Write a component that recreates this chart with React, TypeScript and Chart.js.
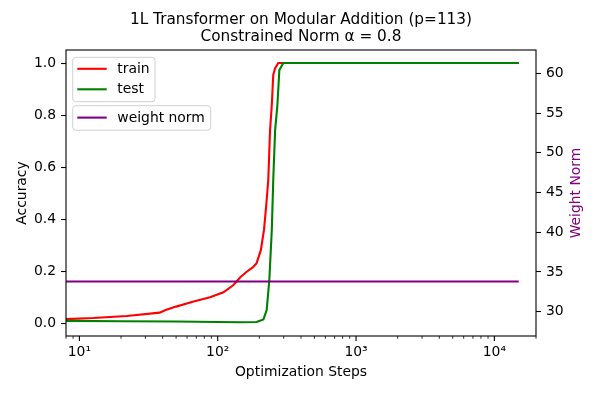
import React, { useEffect, useRef } from 'react';
import { Chart, registerables } from 'chart.js';

Chart.register(...registerables);

const TITLE_LINES = ['1L Transformer on Modular Addition (p=113)', 'Constrained Norm α = 0.8'];
const X_LABEL = 'Optimization Steps';
const Y_LABEL = 'Accuracy';
const Y2_LABEL = 'Weight Norm';

const TRAIN_STEPS = [8, 12.6, 22, 38, 42, 50, 66, 88, 110, 130, 145, 162, 180, 191, 205, 216, 224, 232, 239, 246, 252, 260, 274, 15000];
const TRAIN_ACC = [0.015, 0.019, 0.027, 0.04, 0.05, 0.063, 0.082, 0.099, 0.118, 0.146, 0.175, 0.197, 0.215, 0.23, 0.28, 0.358, 0.45, 0.55, 0.742, 0.838, 0.954, 0.98, 1.0, 1.0];

const TEST_STEPS = [8, 20, 50, 100, 150, 191, 214, 226, 236, 246, 252, 260, 270, 279, 298, 15000];
const TEST_ACC = [0.008, 0.007, 0.006, 0.004, 0.003, 0.004, 0.014, 0.05, 0.165, 0.358, 0.55, 0.742, 0.838, 0.973, 1.0, 1.0];

const NORM_STEPS = [8, 15000];
const NORM_VALUES = [33.8, 33.8];

const X_MIN = 8;
const X_MAX = 20000;
const X_MAJOR_TICKS = [10, 100, 1000, 10000];
const X_MINOR_TICKS = [8, 9, 20, 30, 40, 50, 60, 70, 80, 90, 200, 300, 400, 500, 600, 700, 800, 900, 2000, 3000, 4000, 5000, 6000, 7000, 8000, 9000, 20000];
const Y_MIN = -0.05;
const Y_MAX = 1.05;
const Y_TICKS = [0, 0.2, 0.4, 0.6, 0.8, 1.0];
const Y2_MIN = 26.94;
const Y2_MAX = 62.93;
const Y2_TICKS = [30, 35, 40, 45, 50, 55, 60];

const FONT = 'DejaVu Sans';
const FS = 13.9;
const TITLE_FS = 15.3;
const SUP: Record<string, string> = { '0': '⁰', '1': '¹', '2': '²', '3': '³', '4': '⁴', '5': '⁵', '6': '⁶', '7': '⁷', '8': '⁸', '9': '⁹' };

function fmtPow(v: number) {
  const e = Math.round(Math.log10(v));
  return '10' + String(e).split('').map((c) => SUP[c] || c).join('');
}

function roundRect(ctx: CanvasRenderingContext2D, x: number, y: number, w: number, h: number, r: number) {
  ctx.beginPath();
  ctx.moveTo(x + r, y);
  ctx.lineTo(x + w - r, y);
  ctx.quadraticCurveTo(x + w, y, x + w, y + r);
  ctx.lineTo(x + w, y + h - r);
  ctx.quadraticCurveTo(x + w, y + h, x + w - r, y + h);
  ctx.lineTo(x + r, y + h);
  ctx.quadraticCurveTo(x, y + h, x, y + h - r);
  ctx.lineTo(x, y + r);
  ctx.quadraticCurveTo(x, y, x + r, y);
  ctx.closePath();
}

const overlay = {
  id: 'overlay',
  afterDatasetsDraw(chart: any) {
    const { ctx, chartArea: a, scales } = chart;
    ctx.save();
    const xs = scales.x;
    ctx.strokeStyle = '#000';
    ctx.lineWidth = 1.1;
    for (const v of X_MAJOR_TICKS) {
      const px = xs.getPixelForValue(v);
      ctx.beginPath();
      ctx.moveTo(px, a.bottom);
      ctx.lineTo(px, a.bottom + 4.9);
      ctx.stroke();
    }
    ctx.lineWidth = 0.8;
    for (const v of X_MINOR_TICKS) {
      if (v < X_MIN || v > X_MAX) continue;
      const px = xs.getPixelForValue(v);
      ctx.beginPath();
      ctx.moveTo(px, a.bottom);
      ctx.lineTo(px, a.bottom + 2.8);
      ctx.stroke();
    }
    ctx.lineWidth = 1.1;
    ctx.strokeRect(a.left, a.top, a.right - a.left, a.bottom - a.top);

    const ds = chart.data.datasets;
    const drawLegend = (bx: number, by: number, bw: number, bh: number, items: { label: string; color: string; y: number }[]) => {
      roundRect(ctx, bx, by, bw, bh, 3);
      ctx.fillStyle = 'rgba(255,255,255,0.8)';
      ctx.fill();
      ctx.strokeStyle = '#d0d0d0';
      ctx.lineWidth = 1;
      ctx.stroke();
      for (const it of items) {
        ctx.strokeStyle = it.color;
        ctx.lineWidth = 2.1;
        ctx.beginPath();
        ctx.moveTo(bx + 4.6, it.y);
        ctx.lineTo(bx + 34, it.y);
        ctx.stroke();
        ctx.fillStyle = '#000';
        ctx.font = `${FS}px "${FONT}"`;
        ctx.textAlign = 'left';
        ctx.textBaseline = 'middle';
        ctx.fillText(it.label, bx + 44.6, it.y + 0.5);
      }
    };
    drawLegend(72.7, 57.3, 82.3, 44.4, [
      { label: ds[0].label, color: ds[0].borderColor, y: 68.8 },
      { label: ds[1].label, color: ds[1].borderColor, y: 89.3 },
    ]);
    drawLegend(72.7, 105.7, 138, 24.5, [{ label: ds[2].label, color: ds[2].borderColor, y: 117.6 }]);

    ctx.fillStyle = '#000';
    ctx.textAlign = 'center';
    ctx.textBaseline = 'middle';
    const cx = (a.left + a.right) / 2;
    ctx.font = `${TITLE_FS}px "${FONT}"`;
    ctx.fillText(TITLE_LINES[0], cx, 20);
    ctx.fillText(TITLE_LINES[1], cx, 37);
    ctx.font = `${FS}px "${FONT}"`;
    ctx.fillText(X_LABEL, cx, 372);

    ctx.save();
    ctx.translate(22, (a.top + a.bottom) / 2);
    ctx.rotate(-Math.PI / 2);
    ctx.fillText(Y_LABEL, 0, 0);
    ctx.restore();

    ctx.save();
    ctx.translate(576, (a.top + a.bottom) / 2);
    ctx.rotate(-Math.PI / 2);
    ctx.fillStyle = ds[2].borderColor;
    ctx.fillText(Y2_LABEL, 0, 0);
    ctx.restore();

    ctx.restore();
  },
};

export default function App() {
  const ref = useRef<HTMLCanvasElement>(null);
  useEffect(() => {
    if (!ref.current) return;
    Chart.defaults.font.family = FONT;
    Chart.defaults.font.size = FS;
    Chart.defaults.color = '#000';
    const toPts = (xs: number[], ys: number[]) => xs.map((x, i) => ({ x, y: ys[i] }));
    const chart = new Chart(ref.current, {
      type: 'line',
      data: {
        datasets: [
          { label: 'train', data: toPts(TRAIN_STEPS, TRAIN_ACC), borderColor: '#ff0000', borderWidth: 2.1, pointRadius: 0, tension: 0, yAxisID: 'y', order: 2 },
          { label: 'test', data: toPts(TEST_STEPS, TEST_ACC), borderColor: '#008000', borderWidth: 2.1, pointRadius: 0, tension: 0, yAxisID: 'y', order: 1 },
          { label: 'weight norm', data: toPts(NORM_STEPS, NORM_VALUES), borderColor: '#800080', borderWidth: 2.1, pointRadius: 0, tension: 0, yAxisID: 'y2', order: 0 },
        ],
      },
      options: {
        responsive: false,
        animation: false,
        devicePixelRatio: 1,
        layout: { padding: { top: 50, left: 0, right: 0, bottom: 0 } },
        plugins: { legend: { display: false }, tooltip: { enabled: false }, title: { display: false } },
        scales: {
          x: {
            type: 'logarithmic',
            min: X_MIN,
            max: X_MAX,
            afterBuildTicks: (s: any) => {
              s.ticks = X_MAJOR_TICKS.map((v) => ({ value: v }));
            },
            afterFit: (s: any) => {
              s.height = 63;
            },
            ticks: { autoSkip: false, maxRotation: 0, padding: 3, color: '#000', font: { size: FS }, callback: (v: any) => fmtPow(Number(v)) },
            grid: { display: true, drawOnChartArea: false, drawTicks: true, tickLength: 5, tickColor: 'rgba(0,0,0,0)' },
            border: { display: false },
          },
          y: {
            type: 'linear',
            position: 'left',
            min: Y_MIN,
            max: Y_MAX,
            afterBuildTicks: (s: any) => {
              s.ticks = Y_TICKS.map((v) => ({ value: v }));
            },
            afterFit: (s: any) => {
              s.width = 66;
            },
            ticks: { padding: 5, color: '#000', font: { size: FS }, callback: (v: any) => Number(v).toFixed(1) },
            grid: { display: true, drawOnChartArea: false, drawTicks: true, tickLength: 5, tickColor: '#000', tickWidth: 1.1 },
            border: { display: false },
          },
          y2: {
            type: 'linear',
            position: 'right',
            min: Y2_MIN,
            max: Y2_MAX,
            afterBuildTicks: (s: any) => {
              s.ticks = Y2_TICKS.map((v) => ({ value: v }));
            },
            afterFit: (s: any) => {
              s.width = 62;
            },
            ticks: { padding: 5, color: '#000', font: { size: FS }, callback: (v: any) => String(v) },
            grid: { display: true, drawOnChartArea: false, drawTicks: true, tickLength: 5, tickColor: '#000', tickWidth: 1.1 },
            border: { display: false },
          },
        },
      },
      plugins: [overlay],
    } as any);
    return () => chart.destroy();
  }, []);
  return (
    <div style={{ position: 'absolute', left: 0, top: 0, width: 598, height: 399 }}>
      <canvas ref={ref} width={598} height={399} style={{ display: 'block', width: 598, height: 399 }} />
    </div>
  );
}
